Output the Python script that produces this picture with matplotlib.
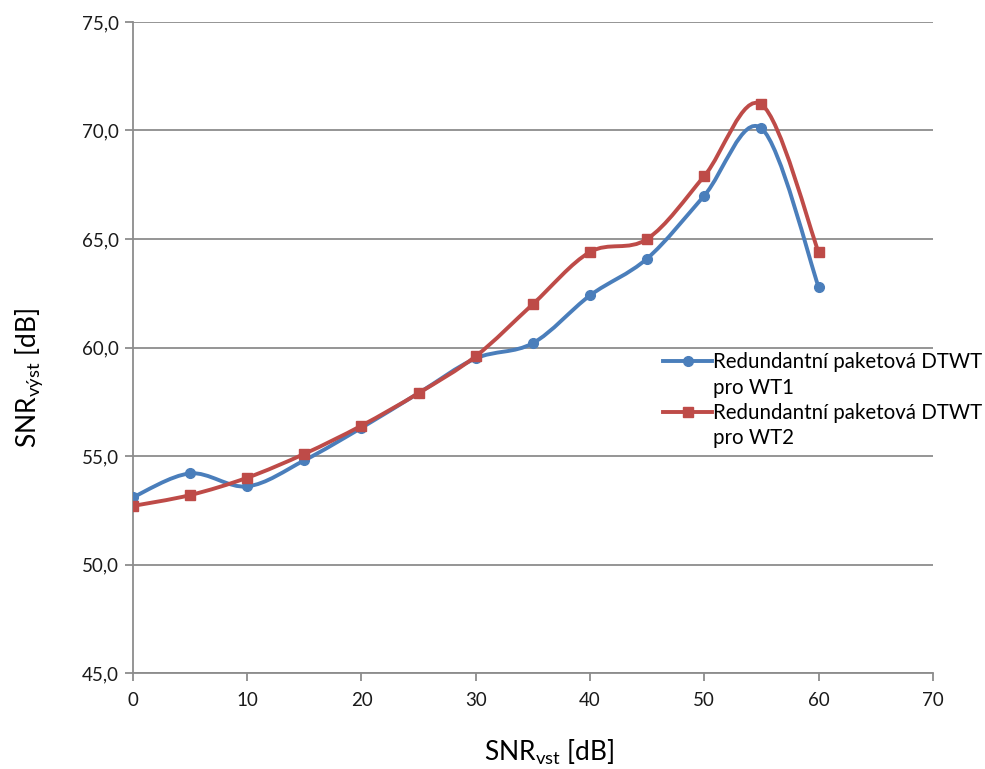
import numpy as np
import matplotlib
matplotlib.use("Agg")
import matplotlib.pyplot as plt
from matplotlib.path import Path
from matplotlib.patches import PathPatch
from matplotlib.lines import Line2D
from matplotlib.ticker import FuncFormatter, MultipleLocator

plt.rcParams['font.family'] = ['Lato', 'DejaVu Sans']
plt.rcParams['mathtext.fontset'] = 'custom'
plt.rcParams['mathtext.rm'] = 'Lato'
plt.rcParams['mathtext.it'] = 'Lato'

snr_in = [0, 5, 10, 15, 20, 25, 30, 35, 40, 45, 50, 55, 60]
wt1 = [53.1, 54.2, 53.6, 54.8, 56.3, 57.9, 59.5, 60.2, 62.4, 64.1, 67.0, 70.1, 62.8]
wt2 = [52.7, 53.2, 54.0, 55.1, 56.4, 57.9, 59.6, 62.0, 64.4, 65.0, 67.9, 71.2, 64.4]
series_name = "Redundantní paketová DTWT"
series_sub = ["pro WT1", "pro WT2"]
colors = ["#4A7EBB", "#BE4B48"]
markers = ["o", "s"]


def smooth_path(x, y):
    """Bezier smoothing through every point (cardinal spline, 1/6 tangents)."""
    p = np.column_stack([x, y]).astype(float)
    n = len(p)
    verts = [p[0]]
    codes = [Path.MOVETO]
    for i in range(n - 1):
        p0 = p[i - 1] if i > 0 else p[i]
        p1, p2 = p[i], p[i + 1]
        p3 = p[i + 2] if i + 2 < n else p[i + 1]
        c1 = p1 + (p2 - p0) / 6.0
        c2 = p2 - (p3 - p1) / 6.0
        verts += [c1, c2, p2]
        codes += [Path.CURVE4] * 3
    return Path(verts, codes)


fig = plt.figure(figsize=(9.85, 7.69), dpi=100)
ax = fig.add_axes([0.135, 0.1248, 0.812, 0.8466])

for series, col, mk in zip([wt1, wt2], colors, markers):
    ax.add_patch(PathPatch(smooth_path(snr_in, series), fill=False,
                           edgecolor=col, lw=2.8, capstyle='round', zorder=3))
    ax.plot(snr_in, series, linestyle='none', marker=mk, color=col,
            markersize=7 if mk == 'o' else 7.5, zorder=4)

ax.set_xlim(0, 70)
ax.set_ylim(45, 75)
ax.xaxis.set_major_locator(MultipleLocator(10))
ax.yaxis.set_major_locator(MultipleLocator(5))
ax.yaxis.set_major_formatter(FuncFormatter(lambda v, _: f"{v:.1f}".replace('.', ',')))
ax.grid(axis='y', color='#8c8c8c', lw=1.3)
ax.set_axisbelow(True)
for s in ['top', 'right']:
    ax.spines[s].set_visible(False)
for s in ['left', 'bottom']:
    ax.spines[s].set_color('#8c8c8c')
    ax.spines[s].set_linewidth(1.3)
ax.tick_params(axis='both', direction='out', length=6, width=1.3, color='#8c8c8c',
               labelsize=13.5, labelcolor='#1a1a1a')
ax.tick_params(axis='y', pad=4)
ax.tick_params(axis='x', pad=8)

ax.set_xlabel(r'$\mathregular{SNR_{vst}}$ [dB]', fontsize=19)
ax.set_ylabel(r'$\mathregular{SNR_{výst}}$ [dB]', fontsize=19)
ax.xaxis.set_label_coords(0.521, -0.099)
ax.yaxis.set_label_coords(-0.11, 0.453)

# Each entry: marker line on the first text row, continuation row without a handle
blank = Line2D([], [], color='none')
handles, texts = [], []
for c, m, sub in zip(colors, markers, series_sub):
    handles += [Line2D([], [], color=c, lw=2.8, marker=m, markersize=7), blank]
    texts += [series_name, sub]
fig.legend(handles, texts, loc='upper left', bbox_to_anchor=(0.673, 0.542),
           frameon=False, fontsize=14.8, handlelength=2.4, handletextpad=0.05,
           labelspacing=0.26, borderaxespad=0, borderpad=0)

fig.savefig("out.png", dpi=100)
